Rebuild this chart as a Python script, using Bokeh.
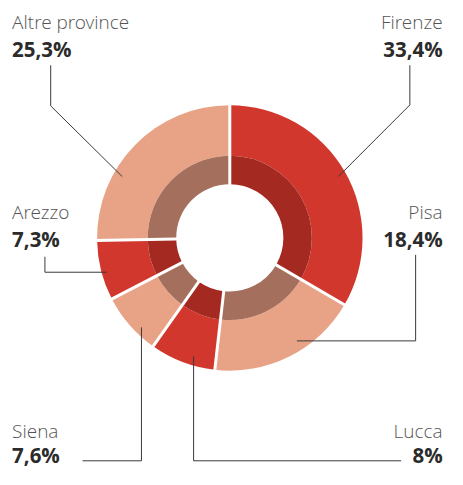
import math
from bokeh.plotting import figure
from bokeh.models import Range1d, ColumnDataSource
from bokeh.core.properties import value
from bokeh.embed import file_html
from bokeh.resources import INLINE

# ---- data ----
names = ["Firenze", "Pisa", "Lucca", "Siena", "Arezzo", "Altre province"]
shares = [33.4, 18.4, 8.0, 7.6, 7.3, 25.3]
pct_labels = ["33,4%", "18,4%", "8%", "7,6%", "7,3%", "25,3%"]

# ---- styles ----
outer_colors = ["#d1372c", "#e8a387", "#d1372c", "#e8a387", "#d1372c", "#e8a387"]
inner_colors = ["#a42a21", "#a56f5d", "#a42a21", "#a56f5d", "#a42a21", "#a56f5d"]

# reference frame (drawing coordinates), scaled into the 447x469 figure
W, H = 463, 485
def fy(py):
    return H - py

CX, CY = 237.5, fy(245.5)
R_OUT, R_MID, R_IN = 137.5, 85, 55.5

# label layout (text y positions = visual baselines)
TEXT_SHIFT = 8
label_pos = {
    "Firenze": (458, 30, 58, "right"),
    "Pisa": (458, 227, 255, "right"),
    "Lucca": (458, 453, 478, "right"),
    "Siena": (12, 453, 478, "left"),
    "Arezzo": (12, 227, 255, "left"),
    "Altre province": (12, 30, 58, "left"),
}
leaders = {
    "Firenze": [(424, 67), (424, 108), (350, 182)],
    "Pisa": [(430, 263), (430, 352), (307, 352)],
    "Lucca": [(200, 368), (200, 476), (415, 476)],
    "Siena": [(85, 476), (146, 476), (146, 338)],
    "Arezzo": [(46, 265), (46, 281), (110, 281)],
    "Altre province": [(52, 67), (52, 109), (126, 182)],
}

# ---- angles ----
total = sum(shares)
starts, ends = [], []
cum = 0.0
for s in shares:
    starts.append(math.pi / 2 - 2 * math.pi * cum / total)
    cum += s
    ends.append(math.pi / 2 - 2 * math.pi * cum / total)

src = ColumnDataSource(dict(name=names, start=starts, end=ends,
                            outer=outer_colors, inner=inner_colors))

p = figure(width=447, height=469, x_range=Range1d(0, W), y_range=Range1d(0, H),
           toolbar_location=None, output_backend="svg", min_border=0)
p.axis.visible = False
p.grid.visible = False
p.outline_line_color = None
p.background_fill_color = "white"
p.border_fill_color = "white"

p.annular_wedge(x=CX, y=CY, inner_radius=R_MID, outer_radius=R_OUT,
                start_angle="start", end_angle="end", direction="clock",
                fill_color="outer", line_color=None, source=src)
p.annular_wedge(x=CX, y=CY, inner_radius=R_IN, outer_radius=R_MID,
                start_angle="start", end_angle="end", direction="clock",
                fill_color="inner", line_color=None, source=src)
p.ray(x=CX, y=CY, angle=starts, length=R_OUT + 2, line_color="white", line_width=3)

# leader lines
xs = [[pt[0] for pt in leaders[n]] for n in names]
ys = [[fy(pt[1]) for pt in leaders[n]] for n in names]
p.multi_line(xs=xs, ys=ys, line_color="#3a3a3a", line_width=1)

# labels
for align in ("left", "right"):
    sel = [i for i, n in enumerate(names) if label_pos[n][3] == align]
    p.text(x=[label_pos[names[i]][0] for i in sel],
           y=[fy(label_pos[names[i]][1] - TEXT_SHIFT) for i in sel],
           text=[names[i] for i in sel],
           text_align=align, text_baseline="alphabetic",
           text_font=value("Open Sans Light"), text_font_size="19px",
           text_color="#555555")
    p.text(x=[label_pos[names[i]][0] for i in sel],
           y=[fy(label_pos[names[i]][2] - TEXT_SHIFT) for i in sel],
           text=[pct_labels[i] for i in sel],
           text_align=align, text_baseline="alphabetic",
           text_font=value("Open Sans"), text_font_style="bold",
           text_font_size="20.5px", text_color="#2b2b2b")

open("out.html", "w").write(file_html(p, INLINE))
